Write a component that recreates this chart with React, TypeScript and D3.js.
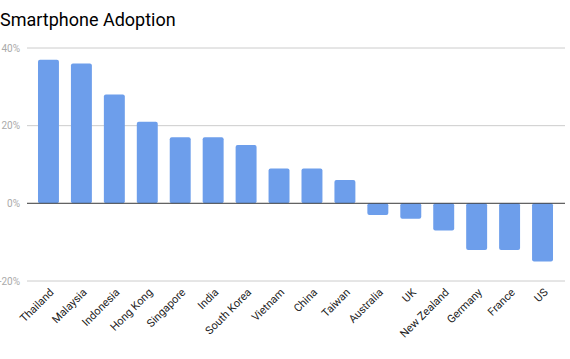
import React from "react";
import * as d3 from "d3";

const categories = ["Thailand","Malaysia","Indonesia","Hong Kong","Singapore","India","South Korea","Vietnam","China","Taiwan","Australia","UK","New Zealand","Germany","France","US"];
const values = [37,36,28,21,17,17,15,9,9,6,-3,-4,-7,-12,-12,-15];
const yTicks = [-20,0,20,40];
const title = "Smartphone Adoption";

const W = 570, H = 359;
const gridLeft = 27, gridRight = 565;

export default function App() {
  const x = d3.scaleBand<string>().domain(categories).range([32, 559]).paddingInner(0.364).paddingOuter(0.182);
  const y = d3.scaleLinear().domain([-20, 40]).range([281, 48]);
  const font = "Roboto, 'Noto Sans', Arial, sans-serif";
  return (
    <svg width={W} height={H} style={{ position: "absolute", left: 0, top: 0, background: "#fff" }} fontFamily={font}>
      <text x={0} y={26} fontSize={18} fill="#000">{title}</text>
      {yTicks.map(t => (
        <g key={t}>
          <line x1={gridLeft} x2={gridRight} y1={y(t)} y2={y(t)} stroke="#cccccc" strokeWidth={1} />
          <text x={20} y={y(t) + 3.5} fontSize={10} fill="#aaaaaa" textAnchor="end">{t}%</text>
        </g>
      ))}
      {categories.map((c, i) => {
        const v = values[i];
        const y0 = y(Math.max(v, 0));
        const h = Math.abs(y(v) - y(0));
        return <rect key={c} x={x(c)} y={y0} width={x.bandwidth()} height={h} rx={2} fill="#6d9eeb" />;
      })}
      <line x1={gridLeft} x2={gridRight} y1={y(0)} y2={y(0)} stroke="#333333" strokeOpacity={0.7} strokeWidth={1.2} />
      {categories.map(c => {
        const cx = (x(c) as number) + x.bandwidth() / 2 + 6;
        const cy = 293;
        return (
          <text key={c} x={cx} y={cy} fontSize={11} fill="#222" textAnchor="end" transform={`rotate(-45 ${cx} ${cy})`}>{c}</text>
        );
      })}
    </svg>
  );
}
